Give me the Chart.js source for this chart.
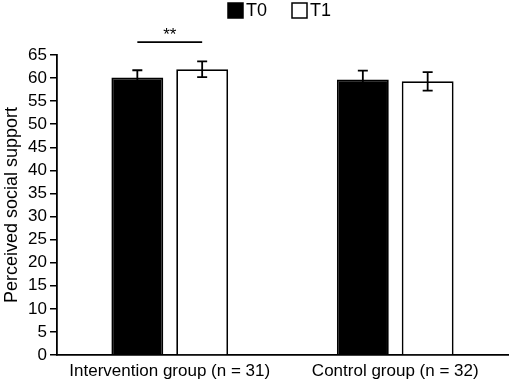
<!DOCTYPE html>
<html>
<head>
<meta charset="utf-8">
<script src="https://cdn.jsdelivr.net/npm/chart.js@4"></script>
<style>
    html, body { margin: 0; padding: 0; background: #fff; }
    #wrap { width: 510px; height: 383px; position: relative; }
</style>
</head>
<body>
<div id="wrap"><canvas id="grafica"></canvas></div>
<script>
const categorias = ['Intervention group (n = 31)', 'Control group (n = 32)'];
const etiquetasSerie = ['T0', 'T1'];
const valoresT0 = [60.1, 59.7];
const erroresT0 = [1.6, 1.9];
const valoresT1 = [61.9, 59.3];
const erroresT1 = [1.7, 2.0];
const significancia = { categoria: 0, nivel: 67.8, texto: '**' };

const FUENTE = "'Liberation Sans', Arial, sans-serif";

// barras de error
const pluginErrores = {
    id: 'errores',
    afterDatasetsDraw(chart) {
        const ctx = chart.ctx;
        const y = chart.scales.y;
        const errores = [erroresT0, erroresT1];
        ctx.save();
        ctx.strokeStyle = '#000';
        ctx.lineWidth = 1.8;
        chart.data.datasets.forEach((ds, i) => {
            const meta = chart.getDatasetMeta(i);
            meta.data.forEach((barra, j) => {
                const v = ds.data[j];
                const e = errores[i][j];
                const arriba = y.getPixelForValue(v + e);
                const abajo = y.getPixelForValue(v - e);
                ctx.beginPath();
                ctx.moveTo(barra.x, arriba);
                ctx.lineTo(barra.x, abajo);
                ctx.moveTo(barra.x - 5, arriba);
                ctx.lineTo(barra.x + 5, arriba);
                ctx.moveTo(barra.x - 5, abajo);
                ctx.lineTo(barra.x + 5, abajo);
                ctx.stroke();
            });
        });

        // linea de significancia
        const a = chart.getDatasetMeta(0).data[significancia.categoria];
        const b = chart.getDatasetMeta(1).data[significancia.categoria];
        const ySig = y.getPixelForValue(significancia.nivel);
        ctx.lineWidth = 1.8;
        ctx.beginPath();
        ctx.moveTo(a.x, ySig);
        ctx.lineTo(b.x, ySig);
        ctx.stroke();
        ctx.fillStyle = '#000';
        ctx.font = `17px ${FUENTE}`;
        ctx.textAlign = 'center';
        ctx.textBaseline = 'bottom';
        ctx.fillText(significancia.texto, (a.x + b.x) / 2, ySig + 2);
        ctx.restore();
    }
};

// leyenda arriba
const pluginLeyenda = {
    id: 'leyendaPropia',
    afterDraw(chart) {
        const ctx = chart.ctx;
        const posiciones = [228, 292];
        ctx.save();
        ctx.font = `18px ${FUENTE}`;
        ctx.textAlign = 'left';
        ctx.textBaseline = 'middle';
        chart.data.datasets.forEach((ds, i) => {
            const x = posiciones[i];
            ctx.fillStyle = ds.backgroundColor;
            ctx.fillRect(x, 3, 15, 15);
            ctx.strokeStyle = '#000';
            ctx.lineWidth = 1.5;
            ctx.strokeRect(x, 3, 15, 15);
            ctx.fillStyle = '#000';
            ctx.fillText(ds.label, x + 18, 11);
        });
        ctx.restore();
    }
};

const ctx = document.getElementById('grafica');
new Chart(ctx, {
    type: 'bar',
    data: {
        labels: categorias,
        datasets: [
            {
                label: etiquetasSerie[0],
                data: valoresT0,
                backgroundColor: '#000',
                borderColor: '#000',
                borderWidth: 1.8,
                categoryPercentage: 0.575,
                barPercentage: 0.8
            },
            {
                label: etiquetasSerie[1],
                data: valoresT1,
                backgroundColor: '#fff',
                borderColor: '#000',
                borderWidth: 1.8,
                categoryPercentage: 0.575,
                barPercentage: 0.8
            }
        ]
    },
    options: {
        responsive: true,
        maintainAspectRatio: false,
        animation: false,
        layout: { padding: { top: 55, right: 2, left: 0, bottom: 0 } },
        plugins: {
            legend: { display: false },
            tooltip: { enabled: false }
        },
        scales: {
            x: {
                grid: { display: false },
                border: { display: true, color: '#000', width: 1.8 },
                ticks: { color: '#000', font: { family: FUENTE, size: 17 }, padding: -2, maxRotation: 0 },
                afterFit(scale) { scale.height = 28; }
            },
            y: {
                min: 0,
                max: 65,
                grid: { display: true, drawOnChartArea: false, drawTicks: true, tickLength: 7, color: '#000', lineWidth: 1.5 },
                border: { display: true, color: '#000', width: 1.8 },
                ticks: { stepSize: 5, autoSkip: false, color: '#000', font: { family: FUENTE, size: 17 }, padding: 3 },
                title: { display: true, text: 'Perceived social support', color: '#000', font: { family: FUENTE, size: 18 }, padding: { top: 1, bottom: 0 } },
                afterFit(scale) { scale.width = 57; }
            }
        }
    },
    plugins: [pluginErrores, pluginLeyenda]
});
</script>
</body>
</html>
